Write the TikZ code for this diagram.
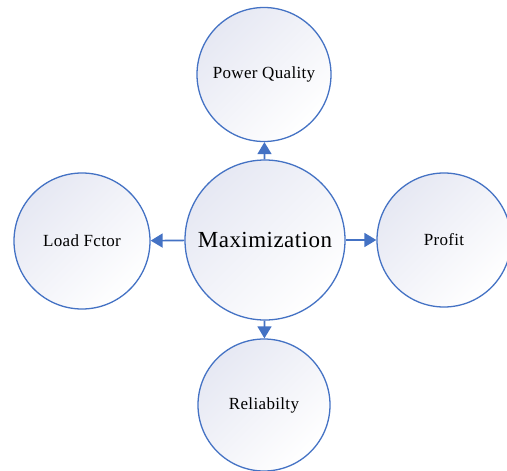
\documentclass[tikz,border=0pt]{standalone}
\usepackage{fontspec}
\setmainfont{Liberation Serif}[LetterSpace=2]
\usetikzlibrary{arrows.meta}
\definecolor{ringblue}{HTML}{4472C4}
\definecolor{lavender}{HTML}{E6E8F3}
\begin{document}
\begin{tikzpicture}[x=1pt,y=-1pt,
  bubble/.style={circle, draw=ringblue, line width=1.3pt, inner sep=0pt,
    shading=axis, top color=lavender, bottom color=white, shading angle=45,
    font=\fontsize{17}{19}\selectfont},
  link/.style={draw=ringblue, line width=1.6pt,
    -{Triangle[length=12pt,width=14pt]}}]
\useasboundingbox (0,0) rectangle (507,471);
\node[bubble, minimum size=160pt, font=\fontsize{23}{26}\selectfont] (mx) at (265,240) {Maximization};
\node[bubble, minimum size=134pt] (pq) at (264,74.5) {Power Quality};
\node[bubble, minimum size=136pt] (lf) at (82,241) {Load Fctor};
\node[bubble, minimum size=134pt] (pr) at (444,240) {Profit};
\node[bubble, minimum size=132pt] (rl) at (264,405) {Reliabilty};
\draw[link] (mx) -- (pq);
\draw[link] (mx) -- (lf);
\draw[link] (mx) -- (pr);
\draw[link] (mx) -- (rl);
\end{tikzpicture}
\end{document}
